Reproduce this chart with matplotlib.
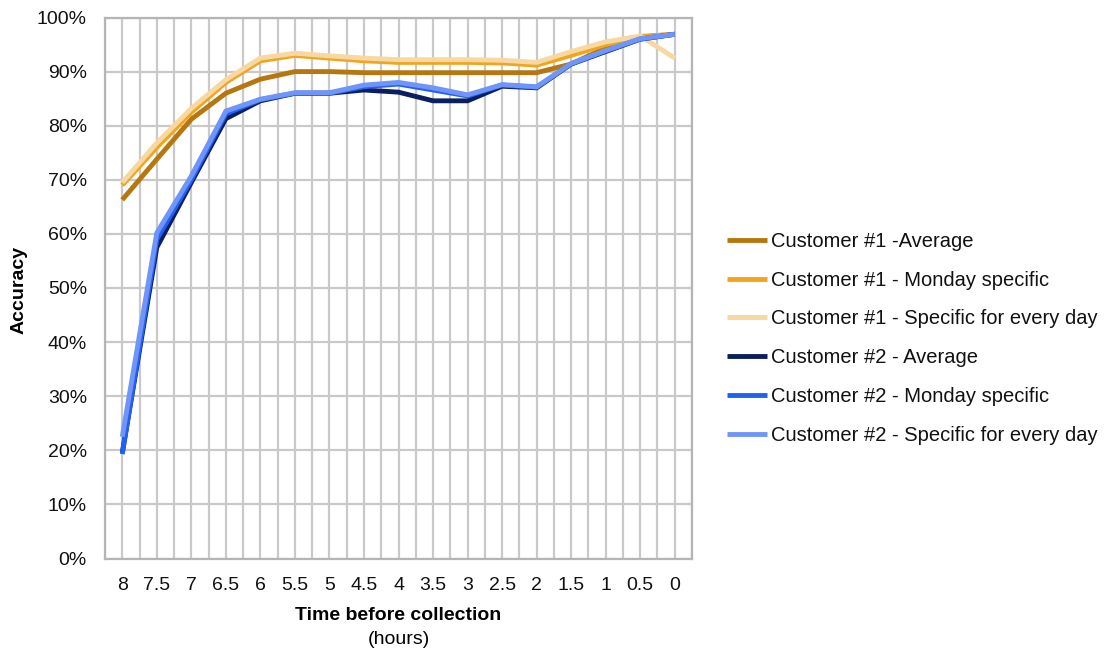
import matplotlib
matplotlib.use("Agg")
import matplotlib.pyplot as plt
import numpy as np
from matplotlib.ticker import FixedLocator

plt.rcParams['font.family'] = ['Liberation Sans', 'DejaVu Sans']

x_labels = ['8', '7.5', '7', '6.5', '6', '5.5', '5', '4.5', '4', '3.5', '3',
            '2.5', '2', '1.5', '1', '0.5', '0']

c1_avg = [66.3, 73.8, 81.2, 86.0, 88.6, 90.0, 90.0, 89.8, 89.8, 89.8, 89.8,
          89.8, 89.8, 91.4, 94.4, 96.4, 96.9]
c1_mon = [69.0, 76.0, 82.5, 88.0, 92.0, 93.0, 92.5, 92.0, 91.7, 91.7, 91.7,
          91.6, 91.2, 93.0, 95.0, 96.5, 96.9]
c1_every = [69.5, 76.8, 83.2, 88.5, 92.5, 93.4, 92.9, 92.5, 92.2, 92.2, 92.2,
            92.1, 91.7, 93.7, 95.5, 96.6, 92.5]
c2_avg = [19.5, 57.5, 69.5, 81.3, 84.6, 86.0, 86.0, 86.6, 86.2, 84.6, 84.6,
          87.3, 87.0, 91.4, 93.7, 96.0, 96.9]
c2_mon = [19.3, 59.0, 70.0, 82.2, 84.8, 86.0, 86.0, 87.2, 87.7, 86.6, 85.5,
          87.5, 87.1, 91.4, 93.8, 96.0, 96.9]
c2_every = [22.5, 60.2, 70.7, 82.7, 84.9, 86.1, 86.1, 87.5, 88.0, 87.0, 85.7,
            87.6, 87.2, 91.5, 93.9, 96.1, 96.9]

series_names = ['Customer #1 -Average', 'Customer #1 - Monday specific',
                'Customer #1 - Specific for every day', 'Customer #2 - Average',
                'Customer #2 - Monday specific', 'Customer #2 - Specific for every day']
series_values = [c1_avg, c1_mon, c1_every, c2_avg, c2_mon, c2_every]
colors = ['#B5770E', '#F2A51C', '#F8D8A2', '#0B1F5E', '#2260F5', '#6F95F8']

W, H = 1104, 653
fig = plt.figure(figsize=(W / 100, H / 100), dpi=100)
ax = fig.add_axes([105 / W, 1 - 558.5 / H, (692 - 105) / W, (558.5 - 17.5) / H])

x = np.arange(len(x_labels))
for name, vals, c in zip(series_names, series_values, colors):
    ax.plot(x, vals, color=c, lw=3.5, label=name, solid_capstyle='butt',
            solid_joinstyle='miter', zorder=3)

ax.set_xlim(-0.5, len(x_labels) - 0.5)
ax.set_ylim(0, 100)
ax.set_xticks(x)
ax.set_xticklabels(x_labels)
ax.set_yticks(np.arange(0, 101, 10))
ax.set_yticklabels([f'{v}%' for v in range(0, 101, 10)])
ax.xaxis.set_minor_locator(FixedLocator(np.arange(-0.5, len(x_labels), 1.0)))

ax.grid(True, which='both', axis='x', color='#C9C9C9', lw=1.6, zorder=0)
ax.grid(True, which='major', axis='y', color='#C9C9C9', lw=1.6, zorder=0)
ax.tick_params(axis='both', which='both', length=0, labelsize=14, colors='#111111')
ax.tick_params(axis='y', pad=13)
ax.tick_params(axis='x', pad=13)
for s in ax.spines.values():
    s.set_color('#B5B5B5')
    s.set_linewidth(1.6)

fig.text(19 / W, 1 - 290 / H, 'Accuracy', rotation=90, ha='center', va='center',
         fontsize=14, fontweight='bold')
fig.text(398.5 / W, 1 - 615 / H, 'Time before collection', ha='center', va='center',
         fontsize=14, fontweight='bold')
fig.text(398.5 / W, 1 - 640 / H, '(hours)', ha='center', va='center', fontsize=14)

leg = fig.legend(loc='upper left', bbox_to_anchor=(727 / W, 1 - 232 / H),
                 frameon=False, borderpad=0, borderaxespad=0, fontsize=14.5,
                 handlelength=2.0, handletextpad=0.2, labelspacing=0.98)
for t in leg.get_texts():
    t.set_color('#111111')

fig.savefig('out.png', dpi=100)
